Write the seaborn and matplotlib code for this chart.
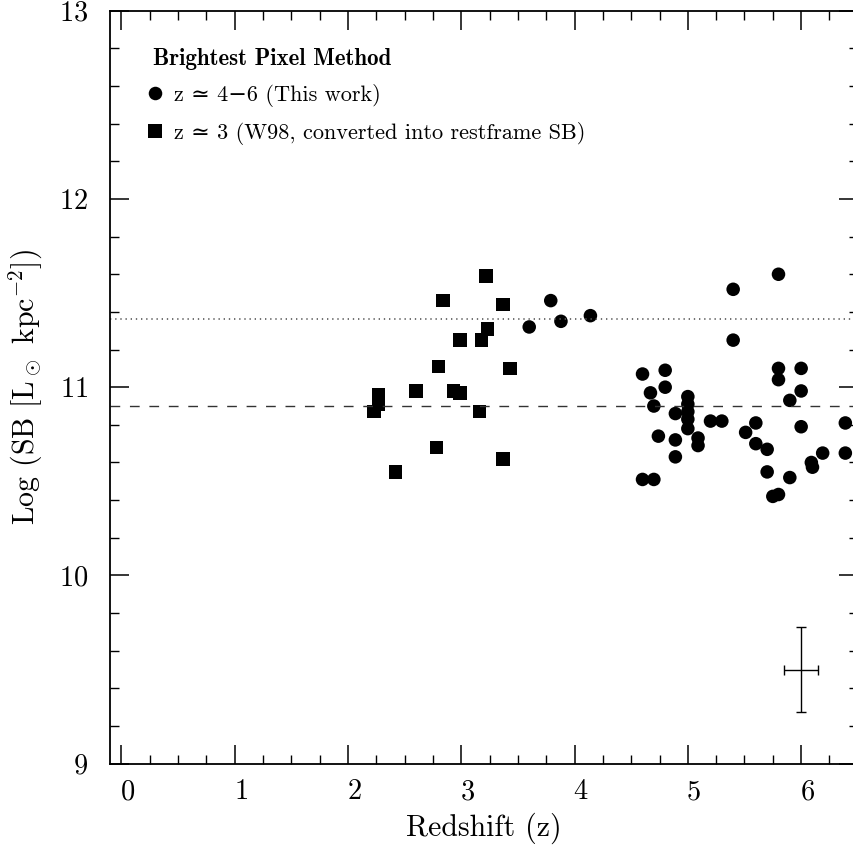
import numpy as np
import pandas as pd
import matplotlib
matplotlib.use("Agg")
import matplotlib.pyplot as plt
from matplotlib.ticker import MultipleLocator
from matplotlib.transforms import ScaledTranslation
import seaborn as sns

# z ~ 3 sample (W98, converted into restframe SB)
w98_z = [2.23, 2.27, 2.27, 2.42, 2.60, 2.78, 2.80, 2.84, 2.93, 2.99,
         2.99, 3.16, 3.18, 3.22, 3.23, 3.37, 3.37, 3.43]
w98_sb = [10.87, 10.91, 10.96, 10.55, 10.98, 10.68, 11.11, 11.46, 10.98, 10.97,
          11.25, 10.87, 11.25, 11.59, 11.31, 11.44, 10.62, 11.10]

# z ~ 4-6 sample (this work)
tw_z = [3.60, 3.79, 3.88, 4.14, 4.60, 4.80, 4.80, 4.67, 4.70, 5.00,
        5.00, 5.00, 5.00, 5.00, 4.89, 5.20, 5.30, 4.74, 4.89, 4.89,
        5.09, 5.09, 4.60, 4.70, 5.40, 5.40, 5.80, 5.80, 5.80, 6.00,
        6.00, 5.90, 5.60, 5.51, 5.60, 5.70, 6.00, 5.70, 5.90, 6.09,
        6.10, 6.19, 6.39, 6.39, 5.75, 5.80]
tw_sb = [11.32, 11.46, 11.35, 11.38, 11.07, 11.09, 11.00, 10.97, 10.90, 10.95,
         10.91, 10.87, 10.83, 10.78, 10.86, 10.82, 10.82, 10.74, 10.72, 10.63,
         10.73, 10.69, 10.51, 10.51, 11.52, 11.25, 11.60, 11.10, 11.04, 11.10,
         10.98, 10.93, 10.81, 10.76, 10.70, 10.67, 10.79, 10.55, 10.52, 10.60,
         10.575, 10.65, 10.81, 10.65, 10.42, 10.43]

# reference levels and typical error
mean_tw = 10.90
mean_w98 = 11.36
err_z, err_sb = 6.0, 9.5
err_dz, err_dsb = 0.15, 0.225

labels = ["z \u2243 4\u22126 (This work)",
          "z \u2243 3 (W98, converted into restframe SB)"]

df = pd.concat([
    pd.DataFrame({"z": tw_z, "sb": tw_sb, "sample": labels[0]}),
    pd.DataFrame({"z": w98_z, "sb": w98_sb, "sample": labels[1]}),
])

sns.set_theme(style="ticks")
plt.rcParams.update({
    "font.family": ["cmr10", "DejaVu Serif"],
    "mathtext.fontset": "cm",
    "axes.formatter.use_mathtext": True,
    "axes.linewidth": 1.3,
    "axes.edgecolor": "black",
    "xtick.color": "black",
    "ytick.color": "black",
    "text.color": "black",
    "axes.labelcolor": "black",
})

fig = plt.figure(figsize=(8.54, 8.48), dpi=100)
ax = fig.add_axes([110 / 854, 84.3 / 848, 747.8 / 854, 753 / 848])

sns.scatterplot(data=df, x="z", y="sb", hue="sample", style="sample",
                palette=["black", "black"], markers=["o", "s"],
                s=95, linewidth=0, ax=ax)

ax.axhline(mean_tw, color="0.2", lw=1.0, dashes=(7, 7))
ax.axhline(mean_w98, color="0.35", lw=1.2, dashes=(0.8, 2.3))
ax.errorbar(err_z, err_sb, xerr=err_dz, yerr=err_dsb, fmt="none",
            ecolor="black", elinewidth=1.0, capsize=3.5, capthick=1.0)

ax.set_xlim(-0.1, 6.5)
ax.set_ylim(9, 13)
ax.xaxis.set_major_locator(MultipleLocator(1))
ax.xaxis.set_minor_locator(MultipleLocator(0.25))
ax.yaxis.set_major_locator(MultipleLocator(1))
ax.yaxis.set_minor_locator(MultipleLocator(0.2))
ax.tick_params(which="both", direction="in", top=True, right=True,
               labelsize=20.5)
ax.tick_params(axis="x", pad=11)
ax.tick_params(axis="y", pad=15.5)
ax.tick_params(which="major", length=13.5, width=1.1)
ax.tick_params(which="minor", length=6.7, width=1.0)

# x tick labels sit a little right of their ticks in the original
shift = ScaledTranslation(6 / 100, 0, fig.dpi_scale_trans)
for lab in ax.get_xticklabels():
    lab.set_transform(lab.get_transform() + shift)

ax.set_xlabel("Redshift (z)", fontsize=21.5, labelpad=5)
ax.set_ylabel("Log (SB [L$_\\odot$ kpc$^{-2}$])", fontsize=21.5, labelpad=10)

leg = ax.legend(loc="upper left", bbox_to_anchor=(0.0575, 0.951), frameon=False,
                title="Brightest Pixel Method", alignment="left",
                fontsize=16, markerscale=1.0, handletextpad=0.75,
                handlelength=0.2, labelspacing=0.66, borderpad=0,
                borderaxespad=0)
leg.get_title().set_fontfamily(["cmb10", "DejaVu Serif"])
leg.get_title().set_fontsize(16.5)

fig.savefig("out.png", dpi=100)
